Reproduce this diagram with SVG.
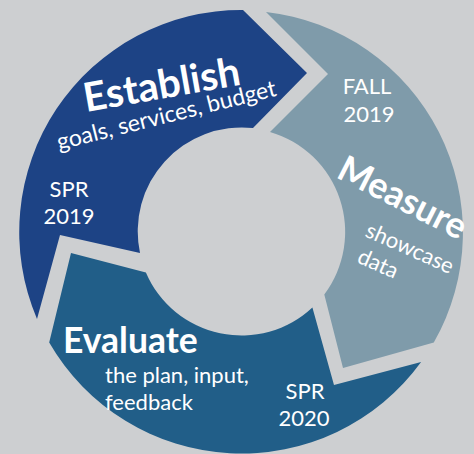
<svg xmlns="http://www.w3.org/2000/svg" width="474" height="454" viewBox="0 0 474 454">
<style>
.t{font-family:Lato,"Open Sans","Liberation Sans",sans-serif;fill:#ffffff}
.h{font-weight:700}
.s{font-size:22px}
.d{font-size:22px;text-anchor:middle}
</style>
<rect width="474" height="454" fill="#cdcfd1"/>
<g id="connectors"/>
<g id="establish">
<path d="M37,319 A222,222 0 0 1 243,10 L307,73 L253,128 A104,104 0 0 0 140,253 L60,235 Z" fill="#1d4385"/>
<text class="t h" font-size="40" transform="translate(86,112) rotate(-10)">Establish</text>
<text class="t" font-size="23" transform="translate(59,150) rotate(-14)">goals, services, budget</text>
<text class="t d" x="69" y="197">SPR</text>
<text class="t d" x="69" y="224">2019</text>
</g>
<g id="measure">
<path d="M266,12 A222,222 0 0 1 433.8,342.5 L343,368 L324.3,294.4 A104,104 0 0 0 270,132 L328,74 Z" fill="#7f9baa"/>
<text class="t d" x="367" y="94">FALL</text>
<text class="t d" x="369" y="122">2019</text>
<text class="t h" font-size="36" transform="translate(335,177) rotate(27)">Measure</text>
<text class="t s" transform="translate(364,236) rotate(24)">showcase</text>
<text class="t s" transform="translate(356,262) rotate(24)">data</text>
</g>
<g id="evaluate">
<path d="M421.1,362 A222,222 0 0 1 49.2,342.5 L71,253 L145.9,272.5 A104,104 0 0 0 312.4,307.6 L334,385 Z" fill="#215e88"/>
<text class="t h" font-size="35.5" x="63" y="353">Evaluate</text>
<text class="t s" x="105" y="383">the plan, input,</text>
<text class="t s" x="105" y="410">feedback</text>
<text class="t d" x="305" y="399">SPR</text>
<text class="t d" x="304" y="426">2020</text>
</g>
</svg>
